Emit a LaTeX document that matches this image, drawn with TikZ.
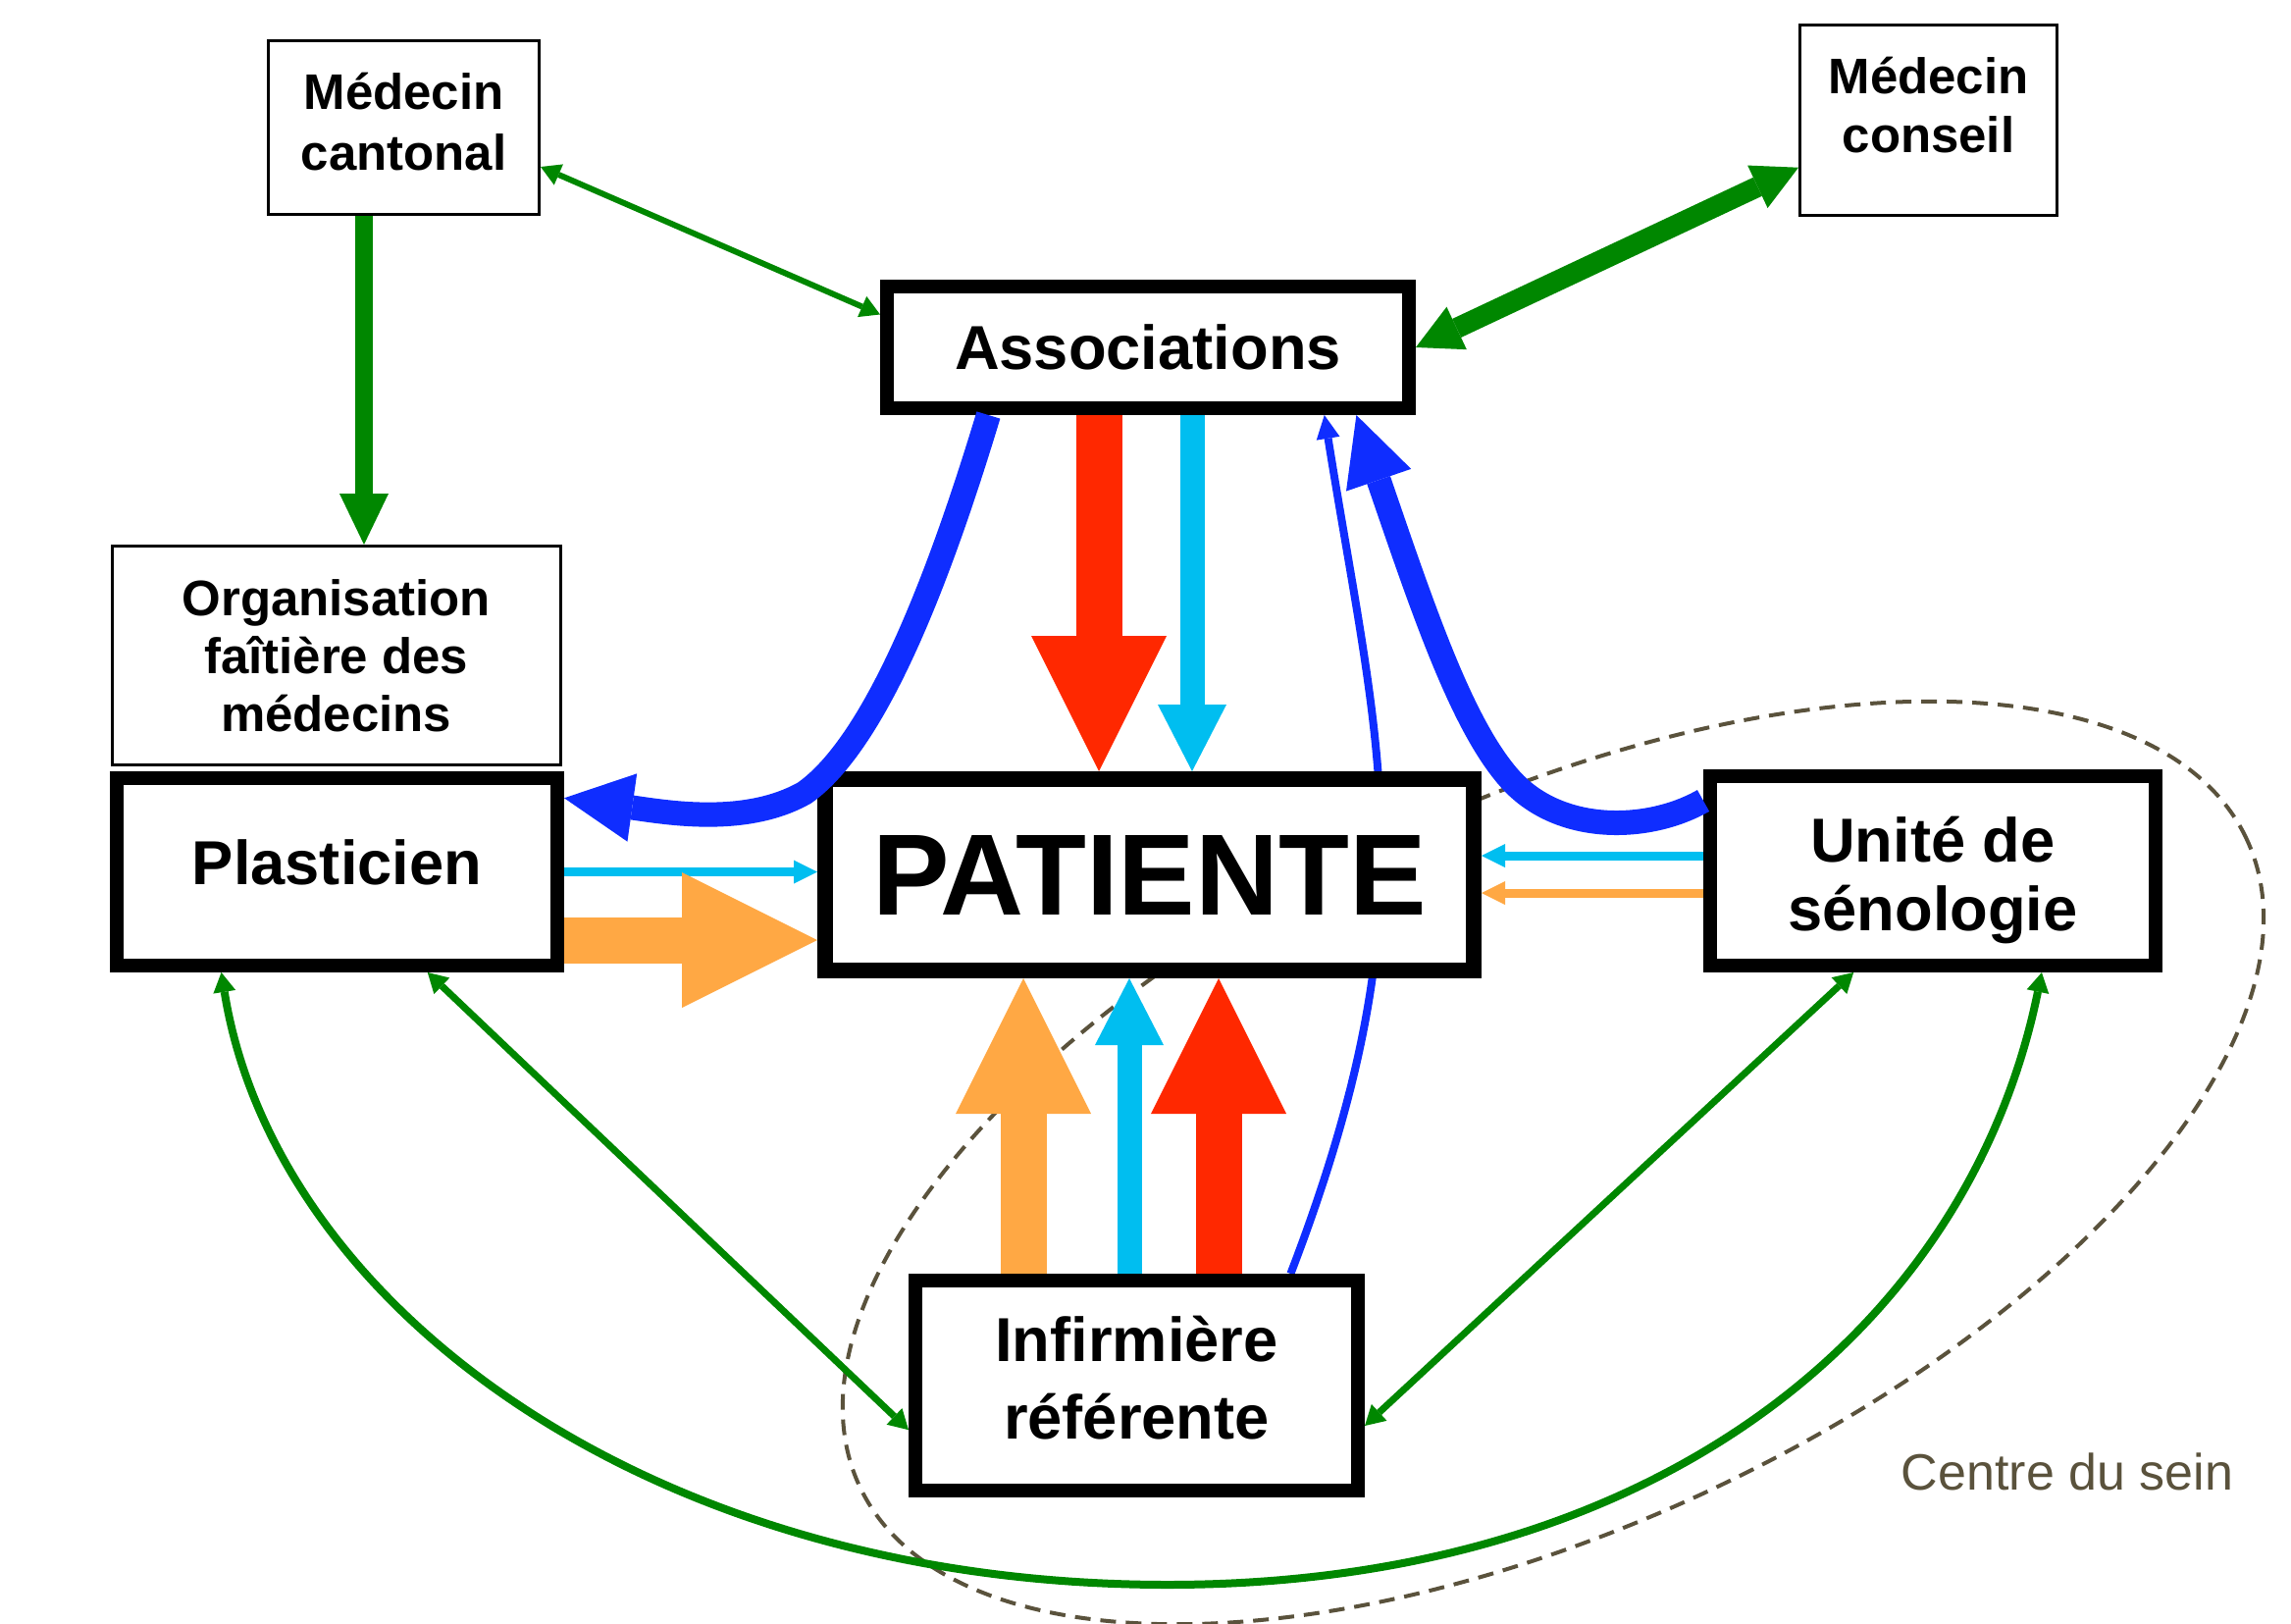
\documentclass[tikz,border=0pt]{standalone}
\usepackage{fontspec}
\setmainfont{Liberation Sans}
\usetikzlibrary{arrows.meta,backgrounds}

\definecolor{linkgreen}{RGB}{0,135,0}
\definecolor{flowblue}{RGB}{15,45,255}
\definecolor{flowcyan}{RGB}{0,190,240}
\definecolor{flowred}{RGB}{255,40,0}
\definecolor{floworange}{RGB}{255,168,68}
\definecolor{centregray}{RGB}{90,82,60}

\begin{document}
\begin{tikzpicture}[x=0.1mm,y=-0.1mm,
    thinbox/.style={draw,fill=white,line width=0.3mm,inner sep=0pt,align=center,
      font=\fontsize{14.5pt}{16.8pt}\selectfont\bfseries},
    thickbox/.style={draw,fill=white,line width=1.4mm,inner sep=0pt,align=center,
      font=\fontsize{18pt}{20pt}\selectfont\bfseries},
    boxtext/.style={align=center,inner sep=0pt},
    fatflow/.style={line width=4.7mm,->,
      >={Triangle[length=13.8mm,width=13.8mm,line width=0pt]}},
    midflow/.style={line width=2.5mm,->,
      >={Triangle[length=6.8mm,width=7mm,line width=0pt]}},
    bigflow/.style={line width=2.5mm,->,
      >={Triangle[length=7mm,width=7mm,line width=0pt]}},
    thinflow/.style={line width=0.9mm,->,
      >={Triangle[length=2.4mm,width=2.4mm,line width=0pt]}},
    greenlink/.style={linkgreen,line width=0.7mm,<->,
      >={Triangle[length=2mm,width=2.3mm,line width=0pt]}}]
  \useasboundingbox (0,0) rectangle (2335,1655);
  % Draw boxes
  \node (medcant) [thinbox,minimum width=27.6mm,minimum height=17.7mm]
        at (411.5,130) {};
  \node (medcanttext) [boxtext,font=\fontsize{14.5pt}{17.6pt}\selectfont\bfseries]
        at (411.5,124) {Médecin\\cantonal};
  \node (medcons) [thinbox,minimum width=26.2mm,minimum height=19.4mm]
        at (1965.5,122.5) {};
  \node (medconstext) [boxtext,font=\fontsize{14.5pt}{17pt}\selectfont\bfseries]
        at (1965.5,107) {Médecin\\conseil};
  \node (org) [thinbox,minimum width=45.75mm,minimum height=22.3mm]
        at (342.75,668) {Organisation\\faîtière des\\médecins};
  \node (assoc) [thickbox,minimum width=53.2mm,minimum height=12.4mm]
        at (1170,354) {Associations};
  \node (patiente) [thickbox,line width=1.6mm,minimum width=66.1mm,minimum height=19.5mm,
        font=\fontsize{33.5pt}{38pt}\selectfont\bfseries]
        at (1171.5,891.5) {PATIENTE};
  \node (plast) [thickbox,minimum width=44.9mm,minimum height=19.1mm]
        at (343.5,888.5) {};
  \node (plasttext) [boxtext,font=\fontsize{18pt}{20pt}\selectfont\bfseries]
        at (343.5,879) {Plasticien};
  \node (unite) [thickbox,minimum width=45.4mm,minimum height=19.3mm]
        at (1970,887.5) {};
  \node (unitetext) [boxtext,font=\fontsize{18pt}{20pt}\selectfont\bfseries]
        at (1970,897) {Unité de\\sénologie};
  \node (infirm) [thickbox,minimum width=45.1mm,minimum height=21.4mm]
        at (1158.5,1412) {};
  \node (infirmtext) [boxtext,font=\fontsize{18pt}{22.5pt}\selectfont\bfseries]
        at (1158.5,1404) {Infirmière\\référente};
  \node (centre) [text=centregray,font=\fontsize{14.8pt}{17pt}\selectfont]
        at (2107,1500) {Centre du sein};
  % Draw outline of the centre and the long blue link behind the boxes
  \begin{pgfonlayer}{background}
    \draw[centregray,line width=0.4mm,dash pattern=on 1.6mm off 1mm,
          rotate around={25:(1583,1185)}]
      (1583,1185) ellipse [x radius=78mm,y radius=37mm];
    \draw[flowblue,thinflow,line width=0.8mm] (infirm.36)
      .. controls (1459,924) and (1405,768) .. (assoc.339);
  \end{pgfonlayer}
  % Draw flows from the associations
  \draw[flowred,fatflow] ([xshift=-5mm]assoc.south)
        -- ([xshift=-5mm]assoc.south |- patiente.north);
  \draw[flowcyan,midflow] ([xshift=4.5mm]assoc.south)
        -- ([xshift=4.5mm]assoc.south |- patiente.north);
  % Draw flows from the plasticien
  \draw[flowcyan,thinflow] (plast.east) -- (plast.east -| patiente.west);
  \draw[floworange,fatflow] ([yshift=-6.95mm]plast.east)
        -- ([yshift=-6.95mm]plast.east -| patiente.west);
  % Draw flows from the unite de senologie
  \draw[flowcyan,thinflow] ([yshift=1.55mm]unite.west)
        -- ([yshift=1.55mm]unite.west -| patiente.east);
  \draw[floworange,thinflow] ([yshift=-2.25mm]unite.west)
        -- ([yshift=-2.25mm]unite.west -| patiente.east);
  % Draw flows from the infirmiere
  \draw[floworange,fatflow] ([xshift=-11.55mm]infirm.north)
        -- ([xshift=-11.55mm]infirm.north |- patiente.south);
  \draw[flowcyan,midflow] ([xshift=-0.75mm]infirm.north)
        -- ([xshift=-0.75mm]infirm.north |- patiente.south);
  \draw[flowred,fatflow] ([xshift=8.35mm]infirm.north)
        -- ([xshift=8.35mm]infirm.north |- patiente.south);
  % Draw blue curves
  \draw[flowblue,bigflow] (assoc.203) .. controls (960,580) and (895,755) .. (820,808)
        .. controls (760,842) and (680,828) .. (plast.18);
  \draw[flowblue,bigflow] (unite.163) .. controls (1680,848) and (1590,850) .. (1540,795)
        .. controls (1490,740) and (1450,620) .. (assoc.342);
  % Draw green links
  \draw[linkgreen,line width=1.8mm,->,>={Triangle[length=5.2mm,width=5mm,line width=0pt]}]
        ([xshift=-4.05mm]medcant.south) -- ([xshift=-4.05mm]medcant.south |- org.north);
  \draw[greenlink,line width=0.6mm] (medcant.344) -- (assoc.173);
  \draw[greenlink,line width=2.1mm,>={Triangle[length=4.6mm,width=4.8mm,line width=0pt]}]
        (assoc.east) -- (medcons.200);
  \draw[greenlink] (plast.312) -- (infirm.191);
  \draw[greenlink] (unite.232) -- (infirm.350);
  \draw[greenlink,line width=0.8mm] (plast.221) .. controls (280,1330) and (660,1615) .. (1190,1615)
        .. controls (1690,1615) and (2007,1353) .. (unite.317);
\end{tikzpicture}
\end{document}
